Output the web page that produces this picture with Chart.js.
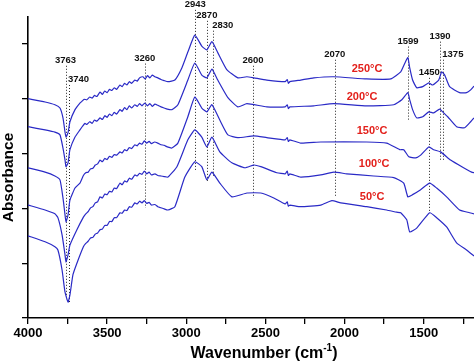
<!DOCTYPE html>
<html><head><meta charset="utf-8">
<script src="https://cdn.jsdelivr.net/npm/chart.js@4.4.1/dist/chart.umd.min.js"></script>
<style>html,body{margin:0;padding:0;background:#fff;}#wrap{width:474px;height:362px;}</style>
</head><body><div id="wrap"><canvas id="c" width="474" height="362"></canvas></div>
<script>
// Series: [wavenumber (cm-1), absorbance (offset, a.u.)]
const s250 = [[4000,4.00],[3892,3.94],[3830,3.89],[3798,3.83],[3779,3.65],[3766,3.39],[3760,3.30],[3747,3.38],[3735,3.58],[3703,3.80],[3672,3.92],[3660,3.95],[3645,3.99],[3628,3.98],[3610,4.03],[3595,4.01],[3580,4.06],[3565,4.04],[3545,4.12],[3530,4.08],[3515,4.14],[3500,4.11],[3485,4.17],[3470,4.15],[3455,4.20],[3440,4.17],[3419,4.25],[3405,4.22],[3390,4.28],[3375,4.25],[3360,4.31],[3345,4.28],[3325,4.34],[3310,4.32],[3295,4.38],[3274,4.40],[3260,4.36],[3245,4.42],[3230,4.38],[3215,4.43],[3198,4.40],[3180,4.38],[3160,4.35],[3140,4.33],[3116,4.31],[3072,4.34],[3028,4.56],[2990,4.85],[2946,5.16],[2902,4.96],[2870,4.89],[2838,5.04],[2801,4.84],[2744,4.53],[2674,4.38],[2617,4.40],[2573,4.38],[2491,4.34],[2375,4.31],[2362,4.35],[2355,4.28],[2345,4.31],[2277,4.34],[2194,4.38],[2068,4.40],[1860,4.36],[1708,4.36],[1645,4.49],[1620,4.64],[1600,4.75],[1588,4.56],[1570,4.34],[1544,4.20],[1506,4.22],[1468,4.29],[1443,4.25],[1405,4.34],[1386,4.49],[1367,4.43],[1336,4.22],[1273,4.11],[1229,4.11],[1203,4.16],[1182,4.23]];
const s200 = [[4000,3.49],[3892,3.43],[3830,3.39],[3798,3.34],[3779,3.10],[3766,2.88],[3760,2.76],[3747,2.83],[3735,3.07],[3703,3.30],[3672,3.43],[3655,3.50],[3640,3.55],[3628,3.53],[3610,3.58],[3595,3.55],[3580,3.61],[3565,3.59],[3545,3.65],[3530,3.62],[3515,3.69],[3500,3.66],[3485,3.72],[3470,3.69],[3455,3.75],[3440,3.72],[3419,3.80],[3405,3.77],[3390,3.84],[3375,3.80],[3360,3.87],[3345,3.83],[3325,3.89],[3310,3.86],[3295,3.91],[3280,3.87],[3262,3.92],[3245,3.87],[3230,3.91],[3215,3.86],[3198,3.90],[3180,3.88],[3160,3.85],[3140,3.83],[3120,3.81],[3091,3.80],[3053,3.89],[2990,4.34],[2946,4.65],[2902,4.43],[2870,4.38],[2838,4.54],[2801,4.34],[2737,4.02],[2674,3.85],[2617,3.91],[2491,3.85],[2375,3.85],[2362,3.89],[2355,3.82],[2345,3.85],[2194,3.87],[2068,3.91],[1860,3.87],[1689,3.89],[1638,3.98],[1600,4.11],[1588,3.98],[1570,3.80],[1544,3.65],[1506,3.67],[1468,3.76],[1437,3.74],[1399,3.81],[1380,3.76],[1348,3.67],[1292,3.49],[1241,3.47],[1203,3.58],[1182,3.65]];
const s150 = [[4000,2.74],[3892,2.66],[3830,2.59],[3798,2.52],[3779,2.19],[3766,1.88],[3760,1.75],[3747,1.88],[3735,2.15],[3703,2.37],[3672,2.46],[3650,2.60],[3635,2.65],[3620,2.66],[3605,2.72],[3590,2.73],[3575,2.79],[3560,2.81],[3545,2.88],[3530,2.85],[3515,2.91],[3500,2.89],[3485,2.95],[3470,2.93],[3455,2.98],[3440,2.97],[3419,3.03],[3405,3.01],[3390,3.07],[3375,3.05],[3360,3.11],[3345,3.09],[3325,3.16],[3310,3.14],[3295,3.19],[3280,3.17],[3265,3.23],[3250,3.19],[3235,3.22],[3220,3.18],[3200,3.21],[3180,3.19],[3160,3.16],[3140,3.15],[3120,3.12],[3091,3.10],[3053,3.19],[2990,3.67],[2946,4.03],[2902,3.83],[2870,3.76],[2838,3.89],[2788,3.61],[2737,3.34],[2674,3.29],[2573,3.32],[2491,3.29],[2375,3.25],[2362,3.29],[2355,3.22],[2345,3.25],[2277,3.19],[2150,3.21],[1860,3.21],[1734,3.19],[1651,3.07],[1626,3.07],[1594,2.94],[1550,2.92],[1519,2.97],[1468,3.12],[1437,3.07],[1393,3.03],[1330,2.88],[1248,2.74],[1197,2.66],[1182,2.65]];
const s100 = [[4000,2.06],[3892,1.97],[3830,1.90],[3811,1.83],[3785,1.52],[3766,1.15],[3760,1.02],[3747,1.15],[3735,1.33],[3691,1.61],[3650,1.84],[3635,1.90],[3620,1.94],[3605,2.01],[3590,2.03],[3575,2.10],[3560,2.12],[3545,2.21],[3530,2.19],[3515,2.26],[3500,2.25],[3485,2.31],[3470,2.30],[3455,2.37],[3440,2.36],[3419,2.46],[3405,2.43],[3390,2.50],[3375,2.48],[3360,2.55],[3345,2.53],[3325,2.61],[3310,2.59],[3295,2.64],[3280,2.62],[3265,2.68],[3250,2.63],[3235,2.66],[3220,2.61],[3198,2.63],[3180,2.60],[3160,2.59],[3140,2.58],[3116,2.57],[3059,2.76],[2990,3.25],[2946,3.43],[2902,3.30],[2870,3.12],[2838,3.30],[2788,3.03],[2712,2.83],[2630,2.74],[2573,2.79],[2529,2.76],[2428,2.65],[2375,2.63],[2362,2.68],[2355,2.60],[2345,2.63],[2277,2.57],[2150,2.61],[2068,2.66],[1986,2.63],[1816,2.59],[1689,2.56],[1626,2.46],[1600,2.21],[1570,2.25],[1519,2.34],[1462,2.46],[1418,2.37],[1355,2.21],[1273,1.97],[1210,1.92],[1182,1.90]];
const s50 = [[4000,1.50],[3892,1.39],[3830,1.30],[3811,1.24],[3785,0.88],[3766,0.47],[3747,0.29],[3735,0.42],[3716,0.79],[3691,1.00],[3650,1.30],[3635,1.36],[3620,1.40],[3605,1.46],[3590,1.47],[3575,1.53],[3560,1.55],[3545,1.61],[3530,1.62],[3515,1.69],[3500,1.69],[3485,1.76],[3470,1.76],[3455,1.83],[3440,1.83],[3419,1.92],[3405,1.91],[3390,1.97],[3375,1.96],[3360,2.03],[3345,2.02],[3325,2.10],[3310,2.08],[3295,2.13],[3280,2.10],[3265,2.14],[3250,2.09],[3235,2.11],[3220,2.06],[3198,2.07],[3180,2.03],[3160,2.01],[3140,1.99],[3116,1.97],[3072,2.03],[3009,2.57],[2946,2.85],[2902,2.76],[2870,2.52],[2838,2.66],[2788,2.46],[2712,2.21],[2617,2.28],[2529,2.28],[2447,2.19],[2375,2.08],[2362,2.12],[2355,2.04],[2345,2.06],[2277,2.03],[2150,2.06],[2080,2.14],[2024,2.10],[1860,2.03],[1734,1.97],[1670,1.93],[1645,1.92],[1607,1.79],[1588,1.57],[1544,1.64],[1462,1.92],[1418,1.83],[1355,1.66],[1292,1.37],[1229,1.24],[1182,1.13]];

const tempLabels = ['50°C','100°C','150°C','200°C','250°C'];
const tempWn = [1826,1813,1826,1889,1858];
const tempAbs = [2.21,2.81,3.41,4.03,4.54];

const peakLabels = ['3763','3740','3260','2943','2870','2830','2600','2070','1599','1450','1390','1375'];
const peakWn =     [3763, 3741, 3262, 2943, 2870, 2830, 2578, 2062, 1599, 1465, 1397, 1376];
const peakTop =    [4.60, 4.25, 4.64, 5.62, 5.42, 5.24, 4.60, 4.71, 4.95, 4.38, 5.04, 4.71];
const peakBottom = [0.33, 0.29, 2.01, 2.70, 2.48, 2.56, 2.19, 2.21, 3.61, 1.92, 2.88, 2.88];
const peakAlign =  ['center','left','center','center','center','left','center','center','center','center','center','left'];

const xMin = 1182, xMax = 4000, xStep = 250, xLabelStep = 500;
const yMin = 0, yMax = 5.49, yStep = 1;

const FONT = '"Liberation Sans", Arial, Helvetica, sans-serif';
const LINE = '#2a2ac6';

const series = [s250, s200, s150, s100, s50];
const datasets = series.map(s => ({
  data: s.map(p => ({x: p[0], y: p[1]})),
  borderColor: LINE, borderWidth: 1.2, pointRadius: 0, tension: 0.15, fill: false
}));

const overlay = {
  id: 'overlay',
  beforeDatasetsDraw(chart) {
    const {ctx, scales: {x, y}} = chart;
    ctx.save();
    ctx.strokeStyle = '#222'; ctx.lineWidth = 1; ctx.setLineDash([1, 2]);
    peakWn.forEach((w, i) => {
      const px = Math.round(x.getPixelForValue(w)) + 0.5;
      ctx.beginPath();
      ctx.moveTo(px, y.getPixelForValue(peakTop[i]));
      ctx.lineTo(px, y.getPixelForValue(peakBottom[i]));
      ctx.stroke();
    });
    ctx.restore();
  },
  afterDraw(chart) {
    const {ctx, scales: {x, y}, chartArea} = chart;
    ctx.save();
    ctx.fillStyle = '#111';
    ctx.font = 'bold 9.5px ' + FONT;
    ctx.textBaseline = 'alphabetic';
    peakLabels.forEach((t, i) => {
      const px = x.getPixelForValue(peakWn[i]);
      ctx.textAlign = peakAlign[i];
      ctx.fillText(t, px + (peakAlign[i] === 'left' ? -1 : 0), y.getPixelForValue(peakTop[i]) - 3);
    });
    ctx.fillStyle = '#e3201b';
    ctx.font = 'bold 11px ' + FONT;
    ctx.textAlign = 'center'; ctx.textBaseline = 'middle';
    tempLabels.forEach((t, i) => {
      ctx.fillText(t, x.getPixelForValue(tempWn[i]), y.getPixelForValue(tempAbs[i]));
    });
    // x-axis title with superscript
    ctx.fillStyle = '#000';
    const main1 = 'Wavenumber (cm', sup = '-1', main2 = ')';
    const fMain = 'bold 16px ' + FONT, fSup = 'bold 10px ' + FONT;
    ctx.font = fMain; const w1 = ctx.measureText(main1).width, w3 = ctx.measureText(main2).width;
    ctx.font = fSup; const w2 = ctx.measureText(sup).width;
    const total = w1 + w2 + w3;
    let cx = (chartArea.left + chartArea.right) / 2 + 13 - total / 2;
    const by = 358;
    ctx.textAlign = 'left'; ctx.textBaseline = 'alphabetic';
    ctx.font = fMain; ctx.fillText(main1, cx, by); cx += w1;
    ctx.font = fSup; ctx.fillText(sup, cx, by - 7); cx += w2;
    ctx.font = fMain; ctx.fillText(main2, cx, by);
    // y-axis title
    ctx.save();
    ctx.translate(8.5, (chartArea.top + chartArea.bottom) / 2 + 10);
    ctx.rotate(-Math.PI / 2);
    ctx.font = 'bold 15.5px ' + FONT;
    ctx.textAlign = 'center'; ctx.textBaseline = 'middle';
    ctx.fillText('Absorbance', 0, 0);
    ctx.restore();
    ctx.restore();
  }
};

new Chart(document.getElementById('c'), {
  type: 'line',
  data: { datasets },
  options: {
    responsive: false, animation: false, devicePixelRatio: 1,
    layout: { padding: { top: 17, right: 0, left: 0, bottom: 0 } },
    plugins: { legend: { display: false }, tooltip: { enabled: false } },
    scales: {
      x: {
        type: 'linear', min: xMin, max: xMax, reverse: true,
        ticks: { stepSize: xStep, includeBounds: false, autoSkip: false, maxRotation: 0, padding: 2,
          color: '#000', font: { family: FONT, size: 13, weight: 'bold' },
          callback: v => (v % xLabelStep === 0 ? String(v) : '') },
        grid: { drawOnChartArea: false, color: '#000', tickLength: 6, lineWidth: 1.3 },
        border: { color: '#000', width: 1.6 },
        afterFit: s => { s.height = 44; s.paddingLeft = 0; s.paddingRight = 0; }
      },
      y: {
        type: 'linear', min: yMin, max: yMax,
        ticks: { stepSize: yStep, includeBounds: false, callback: () => '' },
        grid: { drawOnChartArea: false, color: '#000', tickLength: 6, lineWidth: 1.3 },
        border: { color: '#000', width: 1.6 },
        afterFit: s => { s.width = 28; s.paddingTop = 0; s.paddingBottom = 0; }
      }
    }
  },
  plugins: [overlay]
});
</script>
</body></html>
